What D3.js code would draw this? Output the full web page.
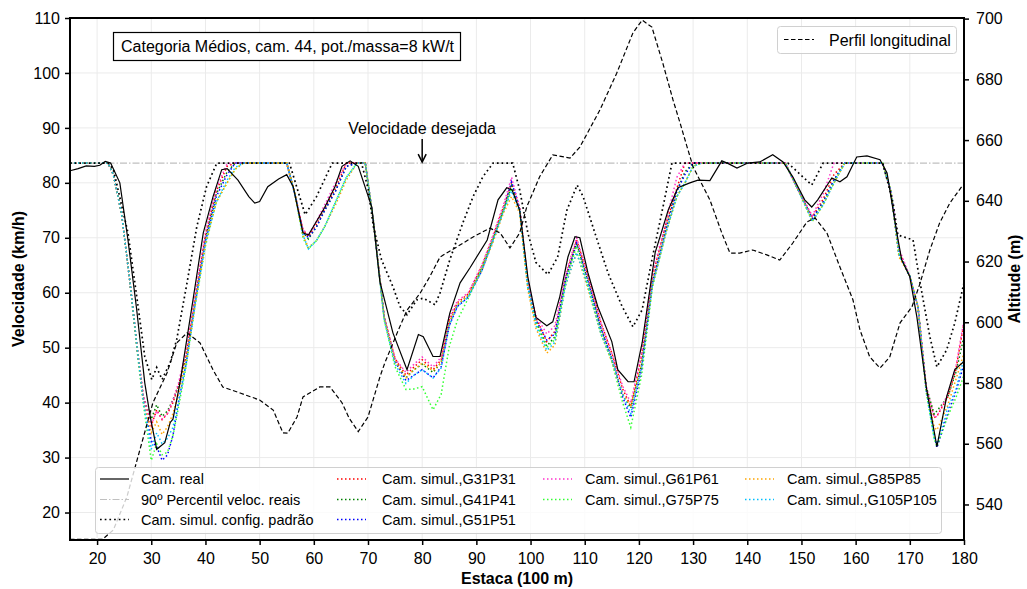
<!DOCTYPE html>
<html><head><meta charset="utf-8">
<script src="https://cdn.jsdelivr.net/npm/d3@7"></script>
<style>body{margin:0;background:#fff} svg{display:block} text{font-family:"Liberation Sans",Arial,sans-serif;fill:#000}</style>
</head><body><svg id="c" width="1027" height="589"></svg>
<script>
// ---------- data ----------
const xTicks = [20,30,40,50,60,70,80,90,100,110,120,130,140,150,160,170,180];
const yTicksLeft = [20,30,40,50,60,70,80,90,100,110];
const yTicksRight = [540,560,580,600,620,640,660,680,700];

const realX = [15,16.5,18,19.5,20.5,21.5,22.5,24.2,25.7,27.3,28.8,29.8,31,32.5,33.5,34,35.3,37.7,39.6,41.4,43,44,46,48,49.1,50,51.5,53.5,55,56.2,58,59,62,63.9,65.2,66.7,68.2,70.7,72.2,74.6,77.2,79.3,80.2,82,83.3,85.1,87,88.8,92,94,95.6,96.6,98,99.5,101,103,104.1,105.4,106.9,108.2,109.1,110.6,112.4,115,116.1,118,119.1,120.6,123,125.4,127.2,129.4,130.9,133.1,135.3,136.5,138.1,140.1,142.3,144.7,146.6,148.4,150.6,151.9,153,155.6,157.1,158.4,160.2,162.1,164.5,165.8,167.6,168.5,170,171.3,173.1,175,176.8,178.3,180];
const realV = [82.2,82.6,83.1,83,83.2,83.9,83.6,80,69.6,57,43.6,37.5,31.5,32.7,36.4,37,43.6,58.7,70.9,77.5,82.4,82.6,80.5,77.5,76.3,76.6,79.3,80.7,81.5,79.3,70.9,70.5,75.5,79.3,83,84,83,75.6,62,52.7,46,52.4,52,48.4,48.4,56.3,61.8,64.5,69.6,76.9,79.1,78.7,75,62.9,55.5,54,54.7,59.3,66.5,70.2,70,63.6,57.5,51.1,46,43.8,43.8,50.9,67.3,75,79.1,80,80.5,80.4,84,83.5,82.7,83.6,83.8,85.1,83.8,81.1,76.9,75.6,76.9,80.9,80.2,81.1,84.7,84.9,84.2,81.8,70.9,66,62.9,55.6,42.4,32,41.1,46,47.5];

const pctX = [15,180];
const pctV = [83.6,83.6];

const padraoX = [15,22,23,25.7,27.4,28.8,30.1,31,32,33.5,34.7,36.6,38.4,40.2,42.1,55.5,58.4,60.5,63.4,68.8,70,71,72.5,74.6,75.9,77.2,79,80.2,82.4,83.3,85.1,87.5,89.4,91.2,93.1,96.7,98,99.5,101,103.2,105,106.7,108.6,109.7,112.3,114.3,116.9,118.9,120.6,122.4,124.4,126.1,147.5,151.9,154,165,166.9,167.8,169.4,170.6,171.9,173.7,175,176.8,178.3,180];
const padraoV = [83.6,83.6,82.5,70.9,58.7,48.4,44.2,46.4,44.2,47.3,51.5,61.8,72,79.3,83.6,83.6,74.2,77.5,83.6,83.6,79,72,66,61.1,57.5,56,58.7,59,57.8,60,66,72.7,77.5,81.1,83.6,83.6,78.7,70.9,65.5,63.3,66.5,75,79.6,77.5,69.6,63.6,57.5,53.8,56.9,66,75.4,83.6,83.6,79.6,83.6,83.6,76.4,70.5,70,69.6,61.8,52,46.5,49.6,54.5,61.8];

const simX = [15,22,23,24.5,26,27.5,28.5,30,31,32,33,34,35,36.5,38,40,42,44,45.5,47,55,56.5,58,59,60.5,62,64,66,68,69.5,71,73,75,77,78.5,80,82,83.5,85,86.5,88.5,91,93,95,96.5,98,99.5,101,103,104.5,106.5,108.5,110.5,113,115,117,118.5,120.5,122.5,125,127,128.5,130,131.5,147,149.5,152,154,156,158,165,166.5,168,170,171.5,173,174.5,175,177,178.5,180];
const g31 = [83.6,83.6,81.5,74.5,62.5,49,41.5, 35.8,38.7,36.9,38,40,43, 49,58.5,70.5,78.5,83,83.6,83.6, 83.6,78,71.5,70.2,72.5,75.3,79,83.6,83.6,83.6, 73,55.5,48,45,46.5,47.8,46,47.8,55,58.2, 59.8,64.8,70,75.6,80,75.4,61.8,55.5,51.1,53, 63,69.6,63.5,54.5,49,42.5,39.3,48.5,62.9,72.5, 79,83.6,83.6,83.6,83.6,78.5,73.8,77,81.5,83.6, 83.6,78.5,67.5,63,57.5,43,37.3,37.5,41,46,54.5];
const g41 = [83.6,83.6,81.5,74.5,62.5,49,41, 37,39.6,37.5,38.5,40.5,43, 48.5,58,70,78,82,83.6,83.6, 83.6,78,71,69.8,72,75,78.5,83,83.6,83.6, 73,55.5,47.5,44.5,46,47,45.5,47.3,54.5,57.8, 59.5,64.3,69.5,75,79.5,75.2,61.5,54.8,50.3,52, 62.5,69,62.5,53.5,48,41.5,39,47,62,72, 78.5,82,83.6,83.6,83.6,78.5,73.5,76.5,80.5,83.6, 83.6,78.5,67,63,57.5,43,37.9,38.5,41,45.5,52];
const g51 = [83.6,83.6,81.5,74.5,62.5,49,41, 33,32,29.5,30.5,34,40, 47.5,57.5,69.5,77.5,81.5,83.6,83.6, 83.6,78,71,70,72,75,78.5,83,83.6,83.6, 73,55.5,47.5,44,45,46,44.5,46.5,54,57.5, 59.2,64,69.5,75,80.2,75.2,61.5,55,51.4,52.5, 62.5,69,62.5,53.5,48,41,37.3,46,61.5,71.5, 78.5,81.5,83.6,83.6,83.6,78.5,73.5,76.5,80.5,83.6, 83.6,78.5,67,63,57.5,42.5,34,31.8,38,42,47];
const g61 = [83.6,83.6,81.5,74.5,62.5,49,41.5, 36,38.5,37,38,40.5,43.5, 49.5,59,71,79,83.5,83.6,83.6, 83.6,78,71.5,70.5,73,76,80,83.6,83.6,83.6, 73,55.5,48,45.5,47,48.3,46.5,48.3,55.5,58.5, 60,65,70.3,76,81,75.5,62,55.8,52.5,54, 63.5,70,63.5,54.5,49,43,40,49,63.5,73, 81,83.6,83.6,83.6,83.6,78.5,74,78,83.6,83.6, 83.6,78.5,68,63,57.5,43,37.3,37.5,41.5,46.5,55];
const g75 = [83.6,83.6,81.5,74.5,62.5,48.5,40, 29.5,32.5,30.5,31,34,39, 47,57,68.5,76.5,80,82.5,83.6, 83.6,78,70,68,69.5,72,76.5,81,83.6,83.6, 73,55,46.5,42.4,42.5,42.9,38.7,41.5,50.2,55, 59,64.5,69.5,75,79,75,61,54.5,50,51.5, 62,68.5,61.5,52.5,47.5,40,35.5,45,61,71, 77.5,80,83,83.6,83.6,78.5,73,76,80,83.6, 83.6,78.5,67,63,57.5,42,33.5,32,37.5,40.9,45];
const g85 = [83.6,83.6,81.5,74.5,62.5,49,40.5, 34.5,36.5,34.2,35.6,38,41.5, 48,57.5,69,76.5,80,82.5,83.6, 83.6,78,70.5,68.2,69.5,72,76,80.5,83.6,83.6, 73,55.5,47.5,44.5,46,47.2,45.8,47.3,54.5,57.8, 59.5,64,69,74.5,77.5,74.5,60.5,53.5,49,50.5, 61.5,67.3,61,52.5,47.5,41.5,39.5,47,61.5,71, 77.5,80,83,83.6,83.6,78.5,73,76,80,83.6, 83.6,78.5,66.5,63,57.5,42.5,35.5,35,39.5,44.2,49];
const g105 = [83.6,83.6,81.5,74.5,62.5,49,40.5, 31.5,34.5,32.5,33.5,35.5,40, 47.5,57.5,69,76.5,80.5,82.8,83.6, 83.6,78,70.5,68,69.5,72,76.5,81,83.6,83.6, 73,55,47,43.5,45,46,44.5,46.3,54,57.5, 59.2,64,69.3,74.8,78.5,74.8,61,54,49.5,51, 61.5,67.3,61.5,52.5,47.8,41.5,38,46.5,61.5,71, 77.5,80,83,83.6,83.6,78.5,73,76,80,83.6, 83.6,78.5,67,63,57.5,42.5,33.5,32.5,39,42.4,48];

const altX = [15,21,23,25.5,27.9,30.3,32.9,34.7,36.6,39,41.4,43.2,46.4,50,52.5,54.3,55.2,56.9,58,61.1,63,65.2,66.5,68.2,70,72.2,73.1,75.5,77.2,79.6,81.4,83.3,86.4,89.4,92.5,94.4,96.2,98,99.3,101.7,104.1,107.3,109.1,112.8,115.9,118.9,120.6,122.4,124.4,126.3,127.6,128.9,130,133.1,135.3,136.8,138.6,141,143.6,146,148.4,151,152.5,154.7,157.1,159.5,160.8,162.6,164.5,166.3,168.2,170.4,171.9,173.7,175.5,177.4,179.8];
const altV = [528.5,528.5,531.6,542.5,558,573.5,583.3,593.2,596.5,593.2,584.3,578.7,576.7,574.4,571.1,563.6,563.5,568.8,575.4,578.7,578.7,573.5,568.5,564,568.8,582,586.6,597,604,609.5,615,621.5,624.8,628.1,631,629.4,624.5,629.4,638,648,655.1,654.1,657.7,669.9,682,695.3,699.5,697.2,685.4,673.2,665.6,657.7,651.2,640.3,629.4,622.8,622.8,623.8,622.2,620.5,626.1,633,634.4,629.4,618.2,607.4,597.5,588.6,584.9,588.6,599.8,605.1,612.9,623.8,632.7,639.3,645.2];

const simSeries = [
  {name:"Cam. simul.,G31P31", x:simX, v:g31, color:"#ff0000"},
  {name:"Cam. simul.,G41P41", x:simX, v:g41, color:"#008000"},
  {name:"Cam. simul.,G51P51", x:simX, v:g51, color:"#0000ff"},
  {name:"Cam. simul.,G61P61", x:simX, v:g61, color:"#ff33cc"},
  {name:"Cam. simul.,G75P75", x:simX, v:g75, color:"#33ff33"},
  {name:"Cam. simul.,G85P85", x:simX, v:g85, color:"#ffa500"},
  {name:"Cam. simul.,G105P105", x:simX, v:g105, color:"#00bfff"}
];

// ---------- layout ----------
const L = 70, R = 964, T = 18, B = 540;
const svg = d3.select("#c");
const x = d3.scaleLinear().domain([15,180]).range([L,R]);
const yL = d3.scaleLinear().domain([15,110]).range([B,T]);
const yR = d3.scaleLinear().domain([528.3,700.2]).range([B,T]);

svg.append("defs").append("clipPath").attr("id","clip")
  .append("rect").attr("x",L).attr("y",T).attr("width",R-L).attr("height",B-T);

// grid
const grid = svg.append("g").attr("stroke","#ebebeb").attr("stroke-width",1);
xTicks.forEach(t => grid.append("line").attr("x1",x(t)).attr("x2",x(t)).attr("y1",T).attr("y2",B));
yTicksLeft.forEach(t => grid.append("line").attr("x1",L).attr("x2",R).attr("y1",yL(t)).attr("y2",yL(t)));

const plot = svg.append("g").attr("clip-path","url(#clip)");
const lineOf = (xs, vs, ys) => d3.line().x((d,i)=>x(xs[i])).y(d=>ys(d))(vs);

// percentile line
plot.append("path").attr("d", lineOf(pctX,pctV,yL)).attr("fill","none")
  .attr("stroke","#c0c0c0").attr("stroke-width",1.2).attr("stroke-dasharray","7,2,1.5,2");

// simulated
simSeries.forEach(s => {
  plot.append("path").attr("d", lineOf(s.x,s.v,yL)).attr("fill","none")
    .attr("stroke",s.color).attr("stroke-width",1.5).attr("stroke-dasharray","1.5,2.5");
});
// padrao
plot.append("path").attr("d", lineOf(padraoX,padraoV,yL)).attr("fill","none")
  .attr("stroke","#000").attr("stroke-width",1.7).attr("stroke-dasharray","1.7,3");
// real
plot.append("path").attr("d", lineOf(realX,realV,yL)).attr("fill","none")
  .attr("stroke","#000").attr("stroke-width",1.2);
// altitude
plot.append("path").attr("d", lineOf(altX,altV,yR)).attr("fill","none")
  .attr("stroke","#000").attr("stroke-width",1.2).attr("stroke-dasharray","4.5,2.5");

// axes
const fs = "16px";
const ax = svg.append("g").attr("transform",`translate(0,${B})`)
  .call(d3.axisBottom(x).tickValues(xTicks).tickSize(5).tickSizeOuter(0).tickPadding(8).tickFormat(d3.format("d")));
const ay = svg.append("g").attr("transform",`translate(${L},0)`)
  .call(d3.axisLeft(yL).tickValues(yTicksLeft).tickSize(5).tickSizeOuter(0).tickPadding(5).tickFormat(d3.format("d")));
const ayr = svg.append("g").attr("transform",`translate(${R},0)`)
  .call(d3.axisRight(yR).tickValues(yTicksRight).tickSize(5).tickSizeOuter(0).tickPadding(7).tickFormat(d3.format("d")));
[ax,ay,ayr].forEach(g => {
  g.select(".domain").remove();
  g.selectAll(".tick line").attr("stroke","#000").attr("stroke-width",1.5);
  g.selectAll(".tick text").attr("font-size",fs).attr("font-family",'"Liberation Sans",Arial,sans-serif').attr("fill","#000");
});
// frame
svg.append("rect").attr("x",L).attr("y",T).attr("width",R-L).attr("height",B-T)
  .attr("fill","none").attr("stroke","#000").attr("stroke-width",2);

// axis labels
svg.append("text").attr("x",(L+R)/2).attr("y",584).attr("text-anchor","middle")
  .attr("font-size",fs).attr("font-weight","bold").text("Estaca (100 m)");
svg.append("text").attr("transform",`translate(24,${(T+B)/2}) rotate(-90)`).attr("text-anchor","middle")
  .attr("font-size",fs).attr("font-weight","bold").text("Velocidade (km/h)");
svg.append("text").attr("transform",`translate(1020,${(T+B)/2}) rotate(-90)`).attr("text-anchor","middle")
  .attr("font-size",fs).attr("font-weight","bold").text("Altitude (m)");

// info box
svg.append("rect").attr("x",113.5).attr("y",32.5).attr("width",347).attr("height",28)
  .attr("fill","#fff").attr("stroke","#000").attr("stroke-width",1.2);
svg.append("text").attr("x",121).attr("y",52).attr("font-size",fs)
  .text("Categoria Médios, cam. 44, pot./massa=8 kW/t");

// annotation
svg.append("text").attr("x",x(80)).attr("y",134).attr("text-anchor","middle").attr("font-size",fs)
  .text("Velocidade desejada");
svg.append("path").attr("d",`M${x(80)},139 L${x(80)},${yL(83.6)-1}`).attr("stroke","#000").attr("stroke-width",1.5).attr("fill","none");
svg.append("path").attr("d",`M${x(80)-4},${yL(83.6)-9} L${x(80)},${yL(83.6)-1} L${x(80)+4},${yL(83.6)-9}`)
  .attr("stroke","#000").attr("stroke-width",1.5).attr("fill","none");

// right legend
const lg2 = svg.append("g");
lg2.append("rect").attr("x",777.5).attr("y",26.5).attr("width",179).attr("height",27).attr("rx",3)
  .attr("fill","#fff").attr("fill-opacity",0.85).attr("stroke","#d0d0d0").attr("stroke-width",1);
lg2.append("line").attr("x1",784).attr("x2",814).attr("y1",39.5).attr("y2",39.5)
  .attr("stroke","#000").attr("stroke-width",1.2).attr("stroke-dasharray","4.5,2.5");
lg2.append("text").attr("x",829).attr("y",45.5).attr("font-size",fs).text("Perfil longitudinal");

// bottom legend
const lg = svg.append("g");
lg.append("rect").attr("x",95.5).attr("y",467.5).attr("width",846).attr("height",66).attr("rx",3)
  .attr("fill","#fff").attr("fill-opacity",0.8).attr("stroke","#d0d0d0").attr("stroke-width",1);
const lfs = "14.5px";
const rows = [479, 499.5, 519.5];
const cols = [{lx:100,tx:141},{lx:337,tx:382},{lx:543,tx:585},{lx:745,tx:787}];
const entries = [
  {col:0,row:0,name:"Cam. real",stroke:"#000",w:1.2,dash:null},
  {col:0,row:1,name:"90º Percentil veloc. reais",stroke:"#c0c0c0",w:1.2,dash:"7,2,1.5,2"},
  {col:0,row:2,name:"Cam. simul. config. padrão",stroke:"#000",w:1.7,dash:"1.7,3"},
];
simSeries.forEach((s,i) => {
  const col = i < 3 ? 1 : (i < 5 ? 2 : 3);
  const row = i < 3 ? i : (i < 5 ? i-3 : i-5);
  entries.push({col,row,name:s.name,stroke:s.color,w:1.5,dash:"1.5,2.5"});
});
entries.forEach(e => {
  const c = cols[e.col], yy = rows[e.row];
  const ln = lg.append("line").attr("x1",c.lx).attr("x2",c.lx+29).attr("y1",yy).attr("y2",yy)
    .attr("stroke",e.stroke).attr("stroke-width",e.w);
  if (e.dash) ln.attr("stroke-dasharray",e.dash);
  lg.append("text").attr("x",c.tx).attr("y",yy+5).attr("font-size",lfs).text(e.name);
});
</script></body></html>
